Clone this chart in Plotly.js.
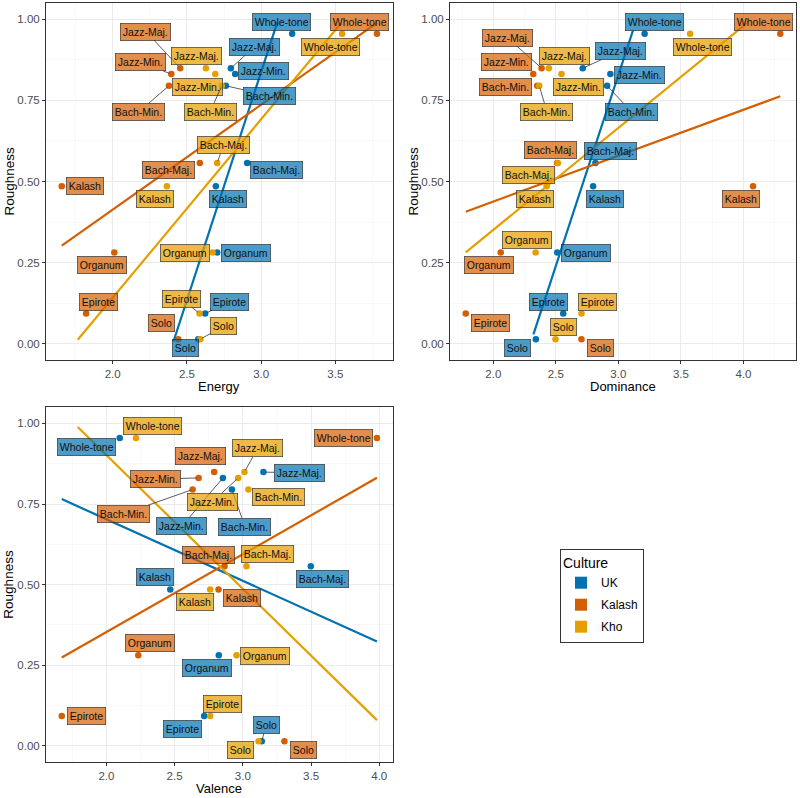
<!DOCTYPE html>
<html><head><meta charset="utf-8">
<script src="https://cdn.plot.ly/plotly-3.0.1.min.js"></script>
<style>html,body{margin:0;padding:0;background:#fff}#chart{width:800px;height:798px}</style>
</head><body><div id="chart"></div>
<script>
// ---------- DATA ----------
const scales = ['Whole-tone','Jazz-Maj.','Jazz-Min.','Bach-Min.','Bach-Maj.','Kalash','Organum','Epirote','Solo'];
const roughness = [0.955, 0.849, 0.831, 0.795, 0.557, 0.485, 0.281, 0.093, 0.014];
const cultures = ['UK', 'Kalash', 'Kho'];

const energyUK     = [3.209, 2.796, 2.825, 2.762, 2.906, 2.695, 2.704, 2.623, 2.576];
const energyKalash = [3.780, 2.455, 2.395, 2.379, 2.587, 1.657, 2.011, 1.821, 2.442];
const energyKho    = [3.545, 2.628, 2.691, 2.735, 2.704, 2.365, 2.673, 2.585, 2.590];

const dominanceUK     = [3.210, 2.715, 2.936, 2.910, 2.816, 2.798, 2.511, 2.559, 2.340];
const dominanceKalash = [4.295, 2.386, 2.319, 2.351, 2.510, 4.077, 2.059, 1.779, 2.705];
const dominanceKho    = [3.574, 2.444, 2.545, 2.367, 2.516, 2.426, 2.338, 2.705, 2.497];

const valenceUK     = [2.098, 3.151, 2.854, 2.920, 3.498, 2.468, 2.824, 2.717, 3.139];
const valenceKalash = [3.983, 2.790, 2.676, 2.632, 2.866, 2.822, 2.234, 1.673, 3.305];
const valenceKho    = [2.217, 3.012, 2.966, 3.041, 3.027, 2.761, 2.954, 2.761, 3.115];

// ---------- STYLE / LABEL PLACEMENT (pixel offsets of label boxes, repel-like) ----------
const cultureColors = ['#0072B2', '#D55E00', '#E69F00'];
const labelFills = ['rgba(0,114,178,0.7)', 'rgba(213,94,0,0.7)', 'rgba(230,159,0,0.72)'];

const energyOffsets = [
  [[-10.7,-11.7],[24,-21.7],[28.7,-3.3],[43.7,10],[29.7,7],[12.3,12.7],[28.3,0.3],[24.3,-12],[-12.7,9]],
  [[-17,-12],[-34.3,-36.7],[-30.7,-11.7],[-30,26],[-31.3,7],[23.3,0],[-12,12.7],[12,-12],[-16.7,-16]],
  [[-12,13],[-9,-12.3],[-17.7,12.7],[-11.7,26],[6.3,-18],[-11.7,12.3],[-28,0.3],[-18.3,-15],[23.3,-13]]
];
const energySegments = [
  [0,1,0,1,0,0,0,1,0],
  [0,1,1,1,0,0,0,0,0],
  [0,0,0,1,1,0,0,1,1]
];
const dominanceOffsets = [
  [[10.3,-11.7],[37.7,-17.3],[28.7,1.3],[24.3,26],[15,-11.7],[11.7,12.3],[29,0.7],[-14.3,-12],[-18.7,8.7]],
  [[-17,-12],[-34.3,-30.7],[-27,-11.7],[-32,1],[-6.3,-12.7],[-12,12.3],[-12,12.7],[24.3,9.7],[18.7,8.7]],
  [[12,13],[15.3,-12.3],[17,12.7],[7.7,26],[-29.7,12],[-11.7,12.3],[-9,-12.3],[15.7,-12],[7.7,-12]]
];
const dominanceSegments = [
  [0,1,0,1,0,0,0,0,0],
  [0,1,0,0,0,0,0,0,0],
  [0,0,0,1,0,0,0,0,0]
];
const valenceOffsets = [
  [[-33,8.7],[35.7,0.7],[-41,48.3],[13,37],[11.7,12.7],[-15,-12],[-12,12.7],[-22,12.7],[4.3,-16.3]],
  [[-33,0.3],[-13.7,-16.3],[-43.3,1.3],[-69,24.3],[-16.3,-11.7],[23,8.3],[12,-12.3],[24.3,0],[19,8.7]],
  [[16.3,-12],[13,-23.7],[-26,24],[30,7.7],[21,-12],[-15,12.3],[28.3,0.3],[12.3,-12.3],[-18.3,8.7]]
];
const valenceSegments = [
  [0,1,1,1,0,0,0,0,1],
  [0,0,1,1,0,0,0,0,0],
  [0,1,1,0,0,0,0,0,0]
];

const panels = [
  {name:'Energy',    xs:[energyUK, energyKalash, energyKho],          xa:'x',  ya:'y',  offsets:energyOffsets,    segs:energySegments,
   xdom:[46/800, 392.7/800], ydom:[1-360/798, 1-3/798], titleGap: 35},
  {name:'Dominance', xs:[dominanceUK, dominanceKalash, dominanceKho], xa:'x2', ya:'y2', offsets:dominanceOffsets, segs:dominanceSegments,
   xdom:[450/800, 796/800], ydom:[1-360/798, 1-3/798], titleGap: 35},
  {name:'Valence',   xs:[valenceUK, valenceKalash, valenceKho],       xa:'x3', ya:'y3', offsets:valenceOffsets,   segs:valenceSegments,
   xdom:[46/800, 392.7/800], ydom:[1-762/798, 1-407.3/798], titleGap: 35}
];

function linfit(xs, ys) {
  const n = xs.length;
  const mx = xs.reduce((a,b)=>a+b,0)/n, my = ys.reduce((a,b)=>a+b,0)/n;
  let sxy = 0, sxx = 0;
  for (let i=0;i<n;i++){ sxy += (xs[i]-mx)*(ys[i]-my); sxx += (xs[i]-mx)*(xs[i]-mx); }
  const b = sxy/sxx;
  return {a: my - b*mx, b: b};
}

const traces = [];
const annotations = [];
const layout = {
  width: 800, height: 798,
  margin: {l:0, r:0, t:0, b:0},
  paper_bgcolor: '#ffffff', plot_bgcolor: '#ffffff',
  font: {family: 'Liberation Sans, Arial, sans-serif', color: '#000'},
  showlegend: true,
  legend: {
    x: 560/800, y: 1-549/798, xanchor: 'left', yanchor: 'top',
    bordercolor: '#333333', borderwidth: 1, bgcolor: '#ffffff',
    title: {text: 'Culture ', font: {size: 14, color: '#000'}},
    font: {size: 12, color: '#000'},
    itemsizing: 'trace', tracegroupgap: 3
  }
};

panels.forEach((p, pi) => {
  const all = [].concat(...p.xs);
  const xmin = Math.min(...all), xmax = Math.max(...all), d = xmax - xmin;
  const suffix = pi === 0 ? '' : String(pi+1);

  layout['xaxis'+suffix] = {
    domain: p.xdom, anchor: 'y'+suffix, range: [xmin-0.05*d, xmax+0.05*d],
    tick0: 0, dtick: 0.5, tickformat: '.1f',
    showline: true, mirror: true, linecolor: '#333333', linewidth: 1,
    ticks: 'outside', ticklen: 3, tickcolor: '#333333', tickwidth: 1,
    tickfont: {size: 11.5, color: '#4d4d4d'},
    showgrid: true, gridcolor: '#ebebeb', gridwidth: 1, zeroline: false,
    minor: {tick0: 0, dtick: 0.25, showgrid: true, gridcolor: '#f3f3f3', gridwidth: 0.6, ticks: ''}
  };
  layout['yaxis'+suffix] = {
    domain: p.ydom, anchor: 'x'+suffix, range: [-0.05, 1.05],
    tickvals: [0, 0.25, 0.5, 0.75, 1], tickformat: '.2f',
    showline: true, mirror: true, linecolor: '#333333', linewidth: 1,
    ticks: 'outside', ticklen: 3, tickcolor: '#333333', tickwidth: 1,
    tickfont: {size: 11.5, color: '#4d4d4d'},
    showgrid: true, gridcolor: '#ebebeb', gridwidth: 1, zeroline: false,
    minor: {tick0: 0, dtick: 0.125, showgrid: true, gridcolor: '#f3f3f3', gridwidth: 0.6, ticks: ''}
  };

  // points
  p.xs.forEach((xv, ci) => {
    traces.push({
      type: 'scatter', mode: 'markers', x: xv, y: roughness, xaxis: p.xa, yaxis: p.ya,
      marker: {color: cultureColors[ci], size: 6.5}, showlegend: false, hoverinfo: 'skip',
      cliponaxis: false
    });
  });
  // regression lines (fullrange, clipped to the 0..1 limits)
  p.xs.forEach((xv, ci) => {
    const f = linfit(xv, roughness);
    const lx = [], ly = [];
    for (let k=0;k<80;k++){
      const x = xmin + (xmax-xmin)*k/79;
      const y = f.a + f.b*x;
      if (y >= 0 && y <= 1) { lx.push(x); ly.push(y); }
    }
    traces.push({
      type: 'scatter', mode: 'lines', x: lx, y: ly, xaxis: p.xa, yaxis: p.ya,
      line: {color: cultureColors[ci], width: 2.2}, showlegend: false, hoverinfo: 'skip'
    });
  });
  // labels
  p.xs.forEach((xv, ci) => {
    xv.forEach((x, si) => {
      const off = p.offsets[ci][si];
      const seg = p.segs[ci][si] === 1;
      annotations.push({
        x: x, y: roughness[si], xref: p.xa, yref: p.ya,
        text: scales[si], showarrow: true, arrowhead: 0,
        arrowwidth: 0.8, arrowcolor: seg ? '#333333' : 'rgba(0,0,0,0)',
        standoff: 2, ax: off[0], ay: off[1],
        bgcolor: labelFills[ci], bordercolor: 'rgba(40,40,40,0.8)', borderwidth: 0.8, borderpad: 2,
        font: {size: 10.5, color: '#111111', family: 'Liberation Sans, Arial, sans-serif'}
      });
    });
  });
  // axis titles
  const cx = (p.xdom[0]+p.xdom[1])/2;
  const cy = (p.ydom[0]+p.ydom[1])/2;
  annotations.push({
    xref: 'paper', yref: 'paper', x: cx, y: p.ydom[0] - p.titleGap/798, xanchor: 'center', yanchor: 'bottom',
    text: p.name, showarrow: false, font: {size: 13, color: '#000'}, borderpad: 0
  });
  annotations.push({
    xref: 'paper', yref: 'paper', x: p.xdom[0] - 37/800, y: cy, xanchor: 'center', yanchor: 'middle',
    text: 'Roughness', showarrow: false, textangle: -90, font: {size: 13.5, color: '#000'}
  });
});

// legend entries
cultures.forEach((c, ci) => {
  traces.push({
    type: 'scatter', mode: 'markers', x: [null], y: [null], name: c, legendgroup: c,
    marker: {color: cultureColors[ci], size: 12, symbol: 'square'}, showlegend: true
  });
});

layout.annotations = annotations;
Plotly.newPlot('chart', traces, layout, {staticPlot: true, displayModeBar: false});
</script>
</body></html>
